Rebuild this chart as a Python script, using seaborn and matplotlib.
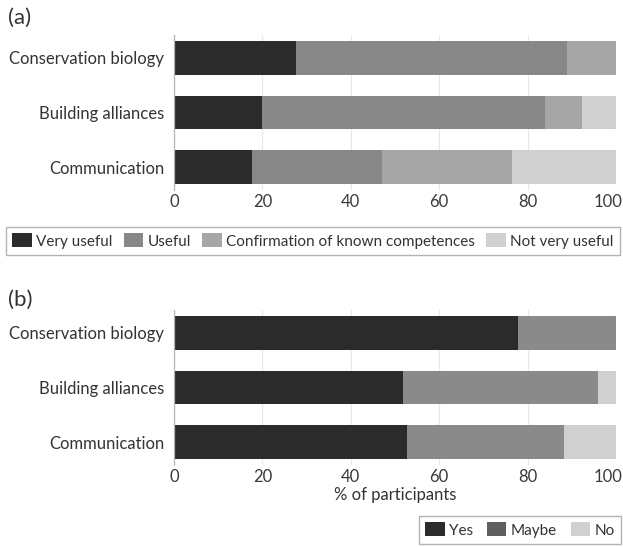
import numpy as np
import pandas as pd
import matplotlib
matplotlib.use('Agg')
from matplotlib import pyplot as plt
from matplotlib.patches import Patch
from matplotlib.transforms import ScaledTranslation
import seaborn as sns

sns.set_style('white')
plt.rcParams['font.family'] = ['Lato', 'DejaVu Sans']

categories = ['Conservation biology', 'Building alliances', 'Communication']

# (a) usefulness of the training, % of participants
labels_a = ['Very useful', 'Useful', 'Confirmation of known competences', 'Not very useful']
very_useful = [27.6, 19.9, 17.7]
useful = [61.3, 64.1, 29.3]
confirmation = [11.1, 8.3, 29.5]
not_very_useful = [0.0, 7.7, 23.5]
colors_a = ['#2b2b2b', '#878787', '#a6a6a6', '#d0d0d0']

# (b) would use it again, % of participants
labels_b = ['Yes', 'Maybe', 'No']
yes = [77.9, 51.8, 52.7]
maybe = [22.1, 44.2, 35.6]
no = [0.0, 4.0, 11.7]
colors_b = ['#2b2b2b', '#8a8a8a', '#d0d0d0']
legend_colors_b = ['#2b2b2b', '#5f5f5f', '#d0d0d0']

W, H = 623, 547
fig = plt.figure(figsize=(W / 100, H / 100), dpi=100)
ax1 = fig.add_axes([174 / W, 1 - 190 / H, 442 / W, 155 / H])
ax2 = fig.add_axes([174 / W, 1 - 465 / H, 442 / W, 155 / H])


def stacked(ax, series, colors):
    cum = np.cumsum(np.array(series), axis=0)
    # draw from the total backwards so each segment shows
    for i in range(len(series) - 1, -1, -1):
        df = pd.DataFrame({'cat': categories, 'val': cum[i]})
        sns.barplot(data=df, x='val', y='cat', orient='h', color=colors[i],
                    saturation=1, width=0.62, linewidth=0, ax=ax)
    ax.set_xlim(0, 100)
    ax.set_ylim(2.42, -0.42)
    ax.set_xticks([0, 20, 40, 60, 80, 100])
    ax.set_axisbelow(True)
    ax.xaxis.grid(True, color='#e8e8e8', lw=0.9)
    ax.yaxis.grid(False)
    for s in ['top', 'right', 'bottom']:
        ax.spines[s].set_visible(False)
    ax.spines['left'].set_color('#b5b5b5')
    ax.spines['left'].set_linewidth(0.9)
    ax.tick_params(length=0, labelsize=12)
    ax.tick_params(axis='y', colors='#333333', pad=7)
    ax.tick_params(axis='x', colors='#3a3a3a', pad=3)
    ax.set_ylabel('')
    ax.set_xlabel('')
    # keep "100" inside the figure edge
    last = ax.get_xticklabels()[-1]
    last.set_transform(last.get_transform() + ScaledTranslation(-8 / 100, 0, fig.dpi_scale_trans))


stacked(ax1, [very_useful, useful, confirmation, not_very_useful], colors_a)
stacked(ax2, [yes, maybe, no], colors_b)
ax2.set_xlabel('% of participants', fontsize=12, color='#333333', labelpad=1)

fig.text(8 / W, 1 - 18 / H, '(a)', fontsize=16, color='#333333', va='center')
fig.text(8 / W, 1 - 300 / H, '(b)', fontsize=16, color='#333333', va='center')


def box_legend(handles, labels, cx, cy, spacing):
    leg = fig.legend(handles, labels, ncol=len(labels), loc='center',
                     bbox_to_anchor=(cx / W, 1 - cy / H), fontsize=11,
                     frameon=True, fancybox=False, handlelength=1.25,
                     handleheight=1.0, handletextpad=0.3, borderaxespad=0,
                     borderpad=0.45, columnspacing=spacing)
    leg.get_frame().set_edgecolor('#a0a0a0')
    leg.get_frame().set_linewidth(1)
    for t in leg.get_texts():
        t.set_color('#333333')
    return leg


h_a = [Patch(facecolor=c, edgecolor='none') for c in colors_a]
box_legend(h_a, labels_a, 313, 241, 0.75)

h_b = [Patch(facecolor=c, edgecolor='none') for c in legend_colors_b]
box_legend(h_b, labels_b, 520, 530, 0.9)

fig.savefig('out.png', dpi=100)
